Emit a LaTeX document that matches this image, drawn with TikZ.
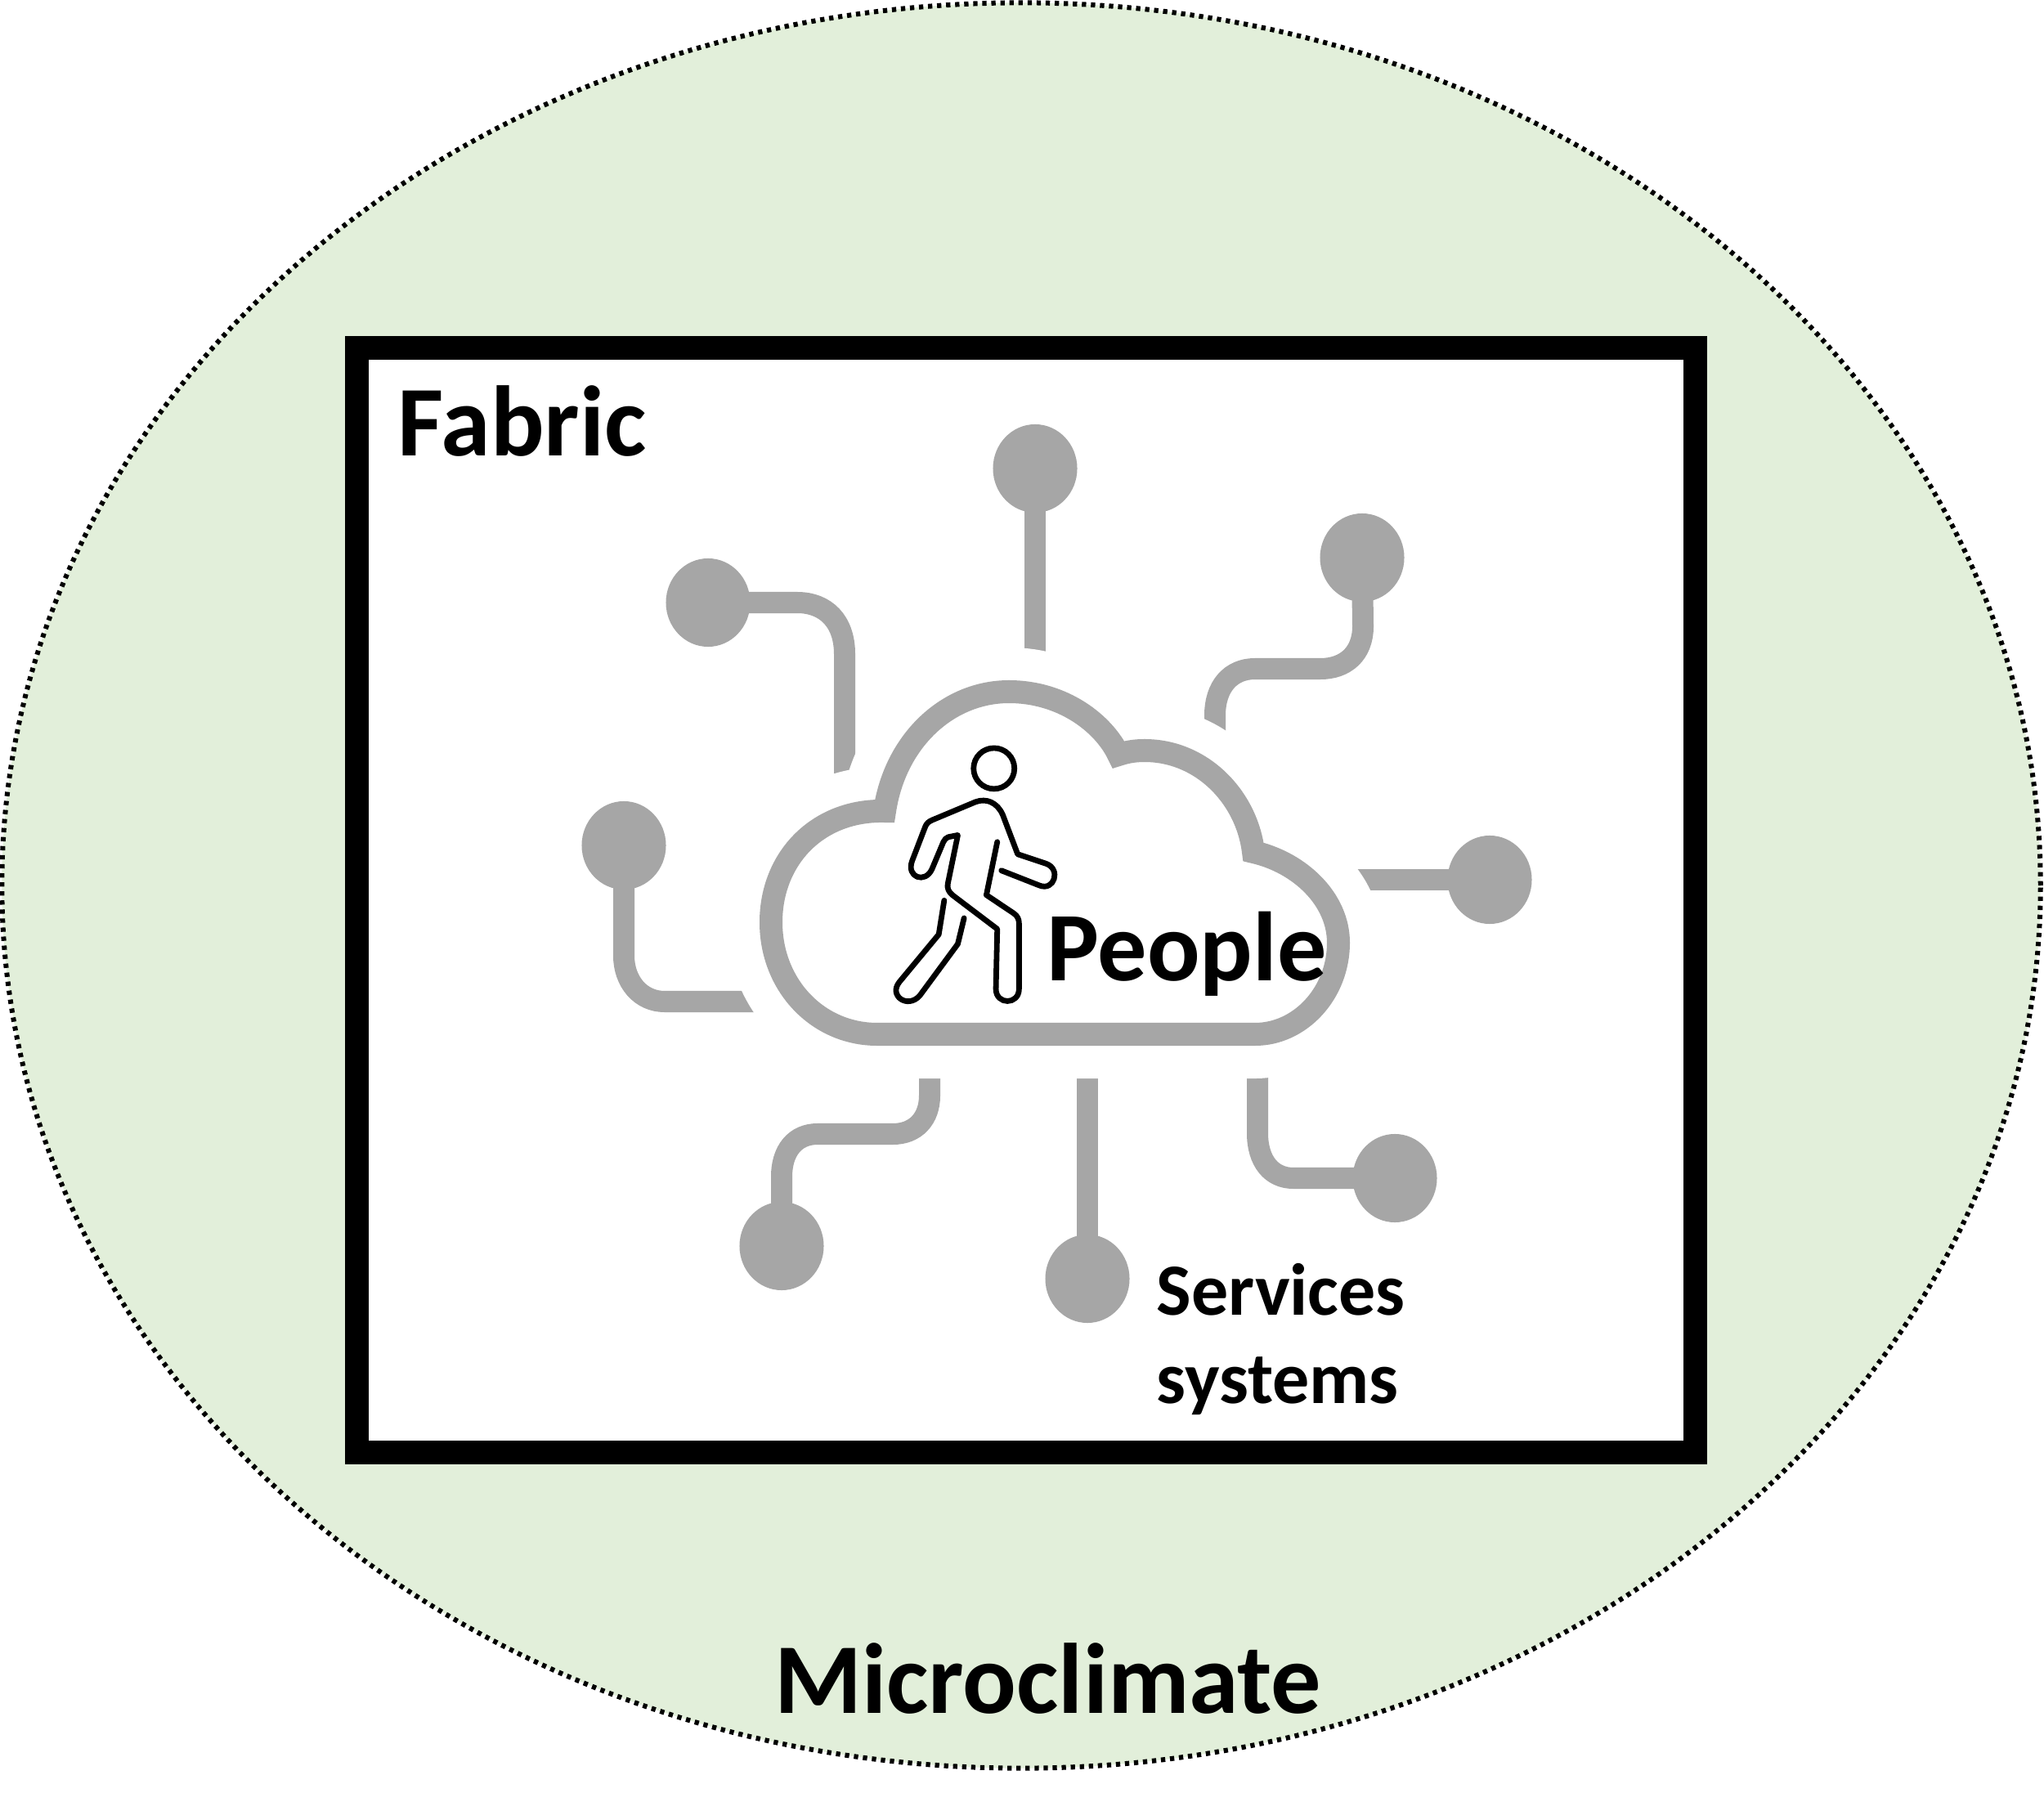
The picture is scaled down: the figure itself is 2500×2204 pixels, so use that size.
\documentclass[tikz,border=0pt]{standalone}
\usepackage{fontspec}
\setmainfont{Carlito}
\usetikzlibrary{shapes.geometric}
\definecolor{leaf}{HTML}{E2EFDA}
\definecolor{wire}{HTML}{A6A6A6}
\tikzset{
  hub/.style={ellipse,fill=wire,draw=none,inner sep=0pt,minimum width=1.03cm,minimum height=1.08cm},
  wirepath/.style={draw=wire,line width=0.26cm},
  label/.style={inner sep=0pt,anchor=base west},
  walker/.style={draw=black,line width=0.068cm,line join=round,line cap=round}
}
\begin{document}
\begin{tikzpicture}[x=0.01cm,y=-0.01cm]
\useasboundingbox (0,0) rectangle (2500,2204);
\fill[white] (0,0) rectangle (2500,2204);
% climate envelope
\node[ellipse,fill=leaf,draw=black,line width=0.06cm,dash pattern=on 1.5pt off 1.65pt,inner sep=0pt,minimum width=24.92cm,minimum height=21.58cm] (climate) at (1249,1083) {};
% fabric
\node[rectangle,fill=white,draw=black,line width=0.29cm,inner sep=0pt,minimum width=16.36cm,minimum height=13.50cm] (fabric) at (1255,1101) {};
% hubs
\node[hub] (htop) at (1266,573) {};
\node[hub] (hul) at (866,737) {};
\node[hub] (hur) at (1666,682) {};
\node[hub] (hl) at (763,1034) {};
\node[hub] (hr) at (1822,1076) {};
\node[hub] (hll) at (956,1524) {};
\node[hub] (hb) at (1330,1564) {};
\node[hub] (hlr) at (1706,1441) {};
% free ends under the halo
\coordinate (etop) at (1266,860);
\coordinate (eul) at (1033,1000);
\coordinate (eur) at (1486,950);
\coordinate (el) at (980,1225);
\coordinate (er) at (1600,1076);
\coordinate (ell) at (1137,1270);
\coordinate (eb) at (1330,1270);
\coordinate (elr) at (1538,1270);
% connectors
\draw[wirepath] (htop.center) -- (etop);
\draw[wirepath] (hul.center) -- (975,737) .. controls (1010,737) and (1033,760) .. (1033,800) -- (eul);
\draw[wirepath] (hur.center) -- (1667,766) .. controls (1667,800) and (1645,818) .. (1615,818) -- (1535,818) .. controls (1505,818) and (1486,840) .. (1486,875) -- (eur);
\draw[wirepath] (hl.center) -- (763,1169) .. controls (763,1200) and (783,1225) .. (813,1225) -- (el);
\draw[wirepath] (hr.center) -- (er);
\draw[wirepath] (ell) -- (1137,1340) .. controls (1137,1368) and (1120,1387) .. (1092,1387) -- (1000,1387) .. controls (972,1387) and (956,1408) .. (956,1439) -- (hll.center);
\draw[wirepath] (eb) -- (hb.center);
\draw[wirepath] (elr) -- (1538,1386) .. controls (1538,1420) and (1555,1441) .. (1582,1441) -- (hlr.center);
% cloud: white halo, then outline
\def\cloudpath{(1082,992) .. controls (1095,905) and (1160,846) .. (1234,846) .. controls (1300,846) and (1350,885) .. (1368,923) .. controls (1380,919) and (1390,918) .. (1400,918) .. controls (1470,918) and (1525,975) .. (1533,1042) .. controls (1590,1055) and (1637,1100) .. (1637,1153) .. controls (1637,1215) and (1590,1265) .. (1535,1265) -- (1073,1265) .. controls (1000,1265) and (943,1205) .. (943,1128) .. controls (943,1050) and (1000,990) .. (1082,992) -- cycle}
\draw[white,line width=1.08cm,line join=round] \cloudpath;
\draw[draw=wire,fill=white,line width=0.28cm,line join=miter] \cloudpath;
% walker
\begin{scope}[shift={(1050,880)},x=0.003333cm,y=-0.003333cm]
\draw[draw=black,line width=0.068cm] (498,180) circle[x radius=75,y radius=75];
\draw[walker] (510,450) -- (470,645) -- (570,712) .. controls (585,722) and (590,735) .. (590,750) -- (590,990) .. controls (590,1050) and (505,1050) .. (505,990) -- (510,770) -- (345,645) .. controls (330,632) and (326,620) .. (328,605) -- (365,425) -- (330,432) .. controls (322,436) and (316,440) .. (312,450) -- (270,550) .. controls (245,605) and (175,580) .. (197,520) -- (245,395) .. controls (250,382) and (258,375) .. (270,370) -- (430,303) .. controls (470,288) and (510,305) .. (530,350) -- (585,495) -- (690,530) .. controls (745,550) and (720,632) .. (665,610) -- (525,555);
\draw[walker] (315,665) -- (295,790) -- (150,965) .. controls (110,1015) and (180,1065) .. (225,1015) -- (365,825) -- (388,730);
\end{scope}
% text
\node[label,font=\bfseries\fontsize{34.8pt}{35pt}\selectfont] (tfabric) at (486,558) {Fabric};
\node[label,font=\bfseries\fontsize{34.2pt}{35pt}\selectfont] (tpeople) at (1280,1199) {People};
\node[label,font=\bfseries\fontsize{34.8pt}{35pt}\selectfont] (tmicro) at (947,2095) {Microclimate};
\node[label,font=\bfseries\fontsize{25.6pt}{26pt}\selectfont] (tserv) at (1414,1608) {Services};
\node[label,font=\bfseries\fontsize{25.6pt}{26pt}\selectfont] (tsys) at (1414,1716) {systems};
\end{tikzpicture}
\end{document}
